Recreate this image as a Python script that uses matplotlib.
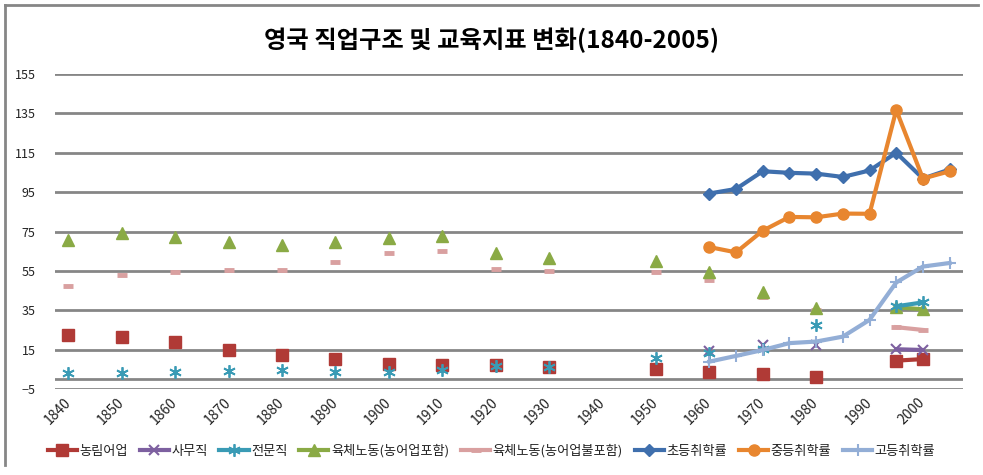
import numpy as np
import matplotlib
matplotlib.use('Agg')
import matplotlib.pyplot as plt
from matplotlib.lines import Line2D

plt.rcParams['font.family'] = ['Noto Sans CJK KR', 'DejaVu Sans']

# categories: every 5 years, labels shown every 10 years
years = [1840, 1845, 1850, 1855, 1860, 1865, 1870, 1875, 1880, 1885,
         1890, 1895, 1900, 1905, 1910, 1915, 1920, 1925, 1930, 1935,
         1940, 1945, 1950, 1955, 1960, 1965, 1970, 1975, 1980, 1985,
         1990, 1995, 2000, 2005]
n = None

farm = [22.5, n, 21.6, n, 18.8, n, 14.8, n, 12.3, n,
        10.1, n, 7.7, n, 7.2, n, 7.2, n, 6.3, n,
        n, n, 5.0, n, 3.8, n, 2.6, n, 1.3, n,
        n, 9.4, 10.2, n]
office = [n, n, n, n, n, n, n, n, n, n,
          n, n, n, n, n, n, n, n, n, n,
          n, n, n, n, 14.5, n, 17.5, n, 17.5, n,
          n, 15.2, 14.8, n]
prof = [3.3, n, 3.3, n, 3.5, n, 4.0, n, 4.7, n,
        3.8, n, 3.5, n, 4.5, n, 6.5, n, 6.0, n,
        n, n, 10.6, n, 13.2, n, 15.5, n, 27.6, n,
        n, 37.0, 39.0, n]
manual_inc = [70.5, n, 74.0, n, 72.0, n, 69.5, n, 68.0, n,
              69.5, n, 71.5, n, 72.5, n, 64.0, n, 61.5, n,
              n, n, 59.8, n, 54.5, n, 44.5, n, 36.0, n,
              n, 36.5, 35.5, n]
manual_exc = [47.4, n, 52.9, n, 54.5, n, 55.6, n, 55.2, n,
              59.6, n, 64.0, n, 65.0, n, 55.9, n, 55.0, n,
              n, n, 54.5, n, 50.5, n, 41.7, n, 34.9, n,
              n, 26.4, 25.0, n]
primary = [n] * 24 + [94.3, 96.6, 105.6, 104.8, 104.4, 102.7, 106.0, 115.0, 101.9, 106.5]
secondary = [n] * 24 + [67.1, 64.4, 75.4, 82.4, 82.2, 84.1, 84.0, 136.7, 101.9, 105.6]
high = [n] * 24 + [8.9, 11.8, 14.8, 18.3, 19.1, 21.6, 30.1, 49.1, 57.2, 59.0]

labels = ['농림어업', '사무직', '전문직', '육체노동(농어업포함)', '육체노동(농어업불포함)',
          '초등취학률', '중등취학률', '고등취학률']

fig = plt.figure(figsize=(9.83, 4.75), dpi=100)
ax = fig.add_axes([55 / 983, 1 - 389 / 475, 908 / 983, 315 / 475])

x = np.arange(len(years))
grid_c = '#868686'
for v in range(-5, 156, 20):
    ax.axhline(v, color=grid_c, lw=2, zorder=0)
ax.axhline(0, color=grid_c, lw=2, zorder=0)

def arr(a):
    return np.array([np.nan if v is None else v for v in a], dtype=float)

ax.plot(x, arr(farm), color='#B03A36', lw=3, marker='s', ms=8.5, label=labels[0], zorder=3)
ax.plot(x, arr(office), color='#7D60A0', lw=3, marker='x', ms=7, mew=1.5, label=labels[1], zorder=4)
ax.plot(x, arr(prof), color='#3A9BB5', lw=3, marker=(6, 2, 0), ms=9, mew=1.3, label=labels[2], zorder=4)
ax.plot(x, arr(manual_inc), color='#8AAA45', lw=3, marker='^', ms=9, label=labels[3], zorder=3)
ax.plot(x, arr(manual_exc), color='#D9A0A0', lw=3, marker='_', ms=7, mew=3.5, label=labels[4], zorder=2)
ax.plot(x, arr(primary), color='#3F6FAD', lw=3, marker='D', ms=6.5, label=labels[5], zorder=5)
ax.plot(x, arr(secondary), color='#E8862F', lw=3, marker='o', ms=8, label=labels[6], zorder=6)
ax.plot(x, arr(high), color='#93AED6', lw=3, marker='+', ms=9, mew=1.5, label=labels[7], zorder=5)

ax.set_xlim(-0.5, len(years) - 0.5)
ax.set_ylim(-5, 155)
ax.set_yticks(range(-5, 156, 20))
ax.set_xticks(x[::2])
ax.set_xticklabels([str(y) for y in years[::2] if y <= 2000],
                   rotation=45, ha='right', va='center', rotation_mode='anchor')
for s in ax.spines.values():
    s.set_visible(False)
ax.tick_params(axis='both', length=0, labelsize=9, colors='#222222')
ax.tick_params(axis='x', labelsize=10, pad=8)
ax.tick_params(axis='y', pad=14)

fig.text(0.5, 1 - 40 / 475, '영국 직업구조 및 교육지표 변화(1840-2005)',
         ha='center', va='center', fontsize=17.5, fontweight='bold')

# chart border (top and left visible)
fig.add_artist(Line2D([5 / 983, 978 / 983], [1 - 5 / 475, 1 - 5 / 475], color=grid_c, lw=2))
fig.add_artist(Line2D([5 / 983, 5 / 983], [1 - 5 / 475, 1 - 465 / 475], color=grid_c, lw=2))

fig.legend(loc='center', bbox_to_anchor=(0.5, 1 - 451 / 475), ncol=8, frameon=False,
           fontsize=9.5, handlelength=2.2, columnspacing=0.9, handletextpad=0.2,
           labelcolor='#222222')

fig.savefig('out.png', dpi=100)
